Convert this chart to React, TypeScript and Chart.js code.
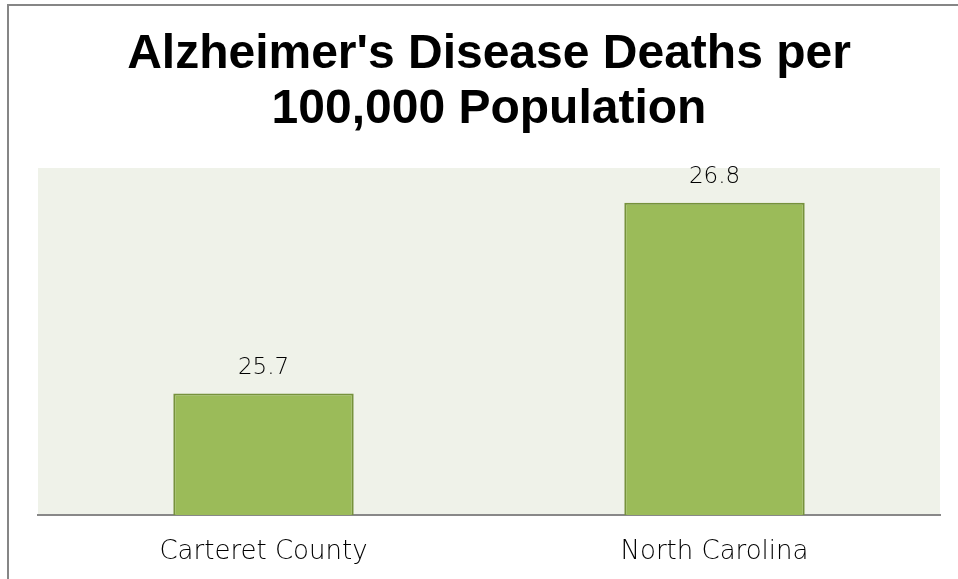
import React, { useEffect, useRef } from "react";
import { Chart, registerables } from "chart.js";

Chart.register(...registerables);

const categories = ["Carteret County", "North Carolina"];
const deathRates = [25.7, 26.8];
const titleLines = ["Alzheimer's Disease Deaths per", "100,000 Population"];
const yMin = 25;
const yMax = 27;

const plotBg = {
  id: "plotBg",
  beforeDraw(chart: any) {
    const { ctx, chartArea } = chart;
    ctx.save();
    ctx.fillStyle = "#EFF2E9";
    ctx.fillRect(chartArea.left, chartArea.top, chartArea.right - chartArea.left, chartArea.bottom - chartArea.top);
    ctx.restore();
  },
};

const valueLabels = {
  id: "valueLabels",
  afterDatasetsDraw(chart: any) {
    const { ctx } = chart;
    const meta = chart.getDatasetMeta(0);
    const data = chart.data.datasets[0].data as number[];
    ctx.save();
    ctx.font = "200 23px 'DejaVu Sans'";
    ctx.fillStyle = "#000000";
    ctx.textAlign = "center";
    ctx.textBaseline = "middle";
    meta.data.forEach((bar: any, i: number) => {
      ctx.fillText(data[i].toFixed(1), bar.x, bar.y - 26);
    });
    ctx.restore();
  },
};

export default function App() {
  const ref = useRef<HTMLCanvasElement | null>(null);
  useEffect(() => {
    if (!ref.current) return;
    const chart = new Chart(ref.current, {
      type: "bar",
      data: {
        labels: categories,
        datasets: [
          {
            data: deathRates,
            backgroundColor: "#9BBB59",
            borderColor: "#76923C",
            borderWidth: 2,
            borderSkipped: "bottom",
            categoryPercentage: 1,
            barPercentage: 0.4,
          },
        ],
      },
      options: {
        animation: false,
        responsive: false,
        maintainAspectRatio: false,
        layout: { padding: { left: 38, right: 18, top: 0, bottom: 0 } },
        plugins: {
          legend: { display: false },
          tooltip: { enabled: false },
          title: {
            display: true,
            text: titleLines,
            color: "#000000",
            font: { family: "'Liberation Sans', Arial, sans-serif", size: 48, weight: "bold", lineHeight: 1.15 },
            padding: { top: 27, bottom: 30.6 },
          },
        },
        scales: {
          x: {
            grid: { display: false, drawTicks: false },
            border: { display: true, color: "#888888", width: 2 },
            ticks: {
              color: "#000000",
              padding: 22,
              font: { family: "'DejaVu Sans'", size: 26, weight: "200" },
            },
            afterFit(scale: any) {
              scale.height = 64;
            },
          },
          y: {
            display: false,
            min: yMin,
            max: yMax,
          },
        },
      },
      plugins: [plotBg, valueLabels],
    });
    return () => chart.destroy();
  }, []);
  return (
    <div style={{ position: "fixed", left: 0, top: 0, width: 958, height: 579, background: "#fff", overflow: "hidden" }}>
      <canvas ref={ref} width={958} height={579} style={{ position: "absolute", left: 0, top: 0 }} />
      <div
        style={{
          position: "absolute",
          left: 7,
          top: 4,
          width: 1000,
          height: 1000,
          borderLeft: "2px solid #868686",
          borderTop: "2px solid #868686",
          pointerEvents: "none",
        }}
      />
    </div>
  );
}
